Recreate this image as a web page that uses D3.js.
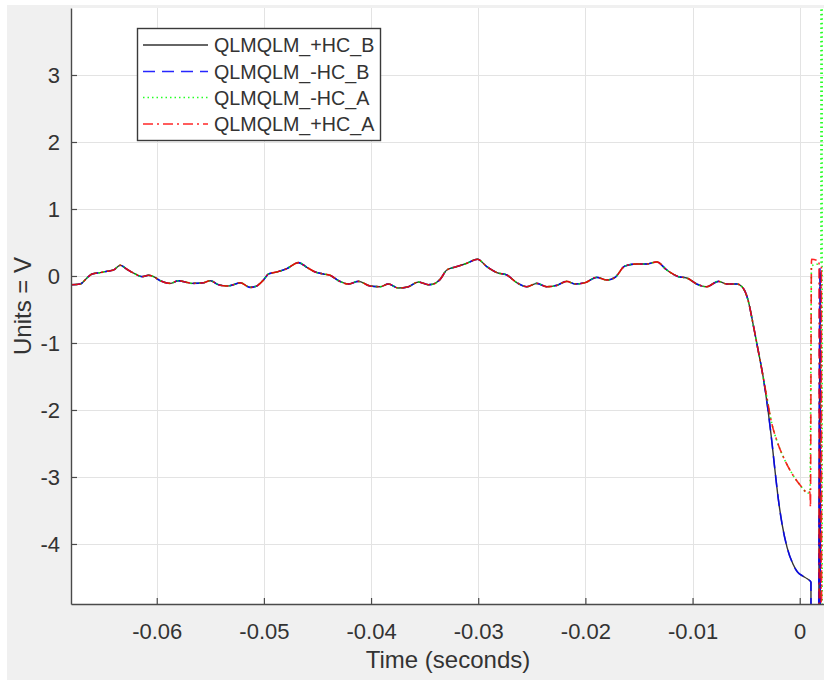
<!DOCTYPE html>
<html>
<head>
<meta charset="utf-8">
<script src="https://cdn.jsdelivr.net/npm/d3@7"></script>
<style>
  html, body { margin: 0; padding: 0; background: #ffffff; }
  svg { display: block; font-family: "Liberation Sans", Arial, Helvetica, sans-serif; }
</style>
</head>
<body>
<svg id="chart" width="824" height="680"></svg>
<script>
// Waveform shared by all four channels before the transient (time in seconds, volts)
const sharedTime = [
  -0.06800, -0.06714, -0.06651, -0.06604, -0.06527, -0.06464, -0.06403, -0.06340, -0.06278, -0.06201,
  -0.06138, -0.06077, -0.06030, -0.05967, -0.05874, -0.05797, -0.05734, -0.05672, -0.05563, -0.05501,
  -0.05424, -0.05345, -0.05284, -0.05221, -0.05128, -0.05068, -0.05004, -0.04957, -0.04879, -0.04786,
  -0.04677, -0.04599, -0.04522, -0.04444, -0.04382, -0.04304, -0.04211, -0.04118, -0.04008, -0.03915,
  -0.03838, -0.03744, -0.03651, -0.03558, -0.03465, -0.03418, -0.03355, -0.03293, -0.03200, -0.03106,
  -0.03007, -0.02920, -0.02826, -0.02733, -0.02640, -0.02547, -0.02453, -0.02360, -0.02267, -0.02174,
  -0.02096, -0.02003, -0.01894, -0.01800, -0.01723, -0.01630, -0.01521, -0.01427, -0.01334, -0.01241,
  -0.01132, -0.01054, -0.00961, -0.00868, -0.00759, -0.00681, -0.00588, -0.00538, -0.00482, -0.00436,
  -0.00389, -0.00342
];
const sharedVolts = [
  -0.13, -0.12, -0.03, 0.03, 0.05, 0.07, 0.09, 0.16, 0.10, 0.03,
  -0.01, 0.01, -0.01, -0.07, -0.11, -0.07, -0.09, -0.11, -0.10, -0.07,
  -0.13, -0.15, -0.13, -0.10, -0.17, -0.15, -0.06, 0.03, 0.06, 0.11,
  0.20, 0.13, 0.06, 0.03, 0.01, -0.07, -0.12, -0.08, -0.15, -0.16,
  -0.12, -0.18, -0.16, -0.09, -0.13, -0.12, -0.05, 0.09, 0.14, 0.19,
  0.25, 0.14, 0.05, 0.015, -0.10, -0.16, -0.11, -0.16, -0.14, -0.08,
  -0.12, -0.10, -0.02, -0.06, -0.02, 0.15, 0.18, 0.18, 0.21, 0.09,
  -0.01, -0.03, -0.12, -0.16, -0.08, -0.12, -0.12, -0.16, -0.36, -0.71,
  -1.10, -1.50
];

// Channel tails after the common section
const tailTimeB = [-0.00296, -0.00258, -0.00231, -0.00202, -0.00165, -0.00118, -0.00063, -0.00020, 0.00030, 0.00070, 0.00105, 0.00110, 0.00190, 0.00200, 0.00240];
const tailPosB  = [-2.00, -2.50, -2.90, -3.30, -3.70, -4.05, -4.30, -4.42, -4.48, -4.52, -4.57, -80, 0.05, -80, -80];
const tailNegB  = [-2.00, -2.50, -2.90, -3.30, -3.70, -4.05, -4.30, -4.42, -4.48, -4.52, -4.57, -80, 0.12, -80, -80];

const tailTimePosA = [-0.00308, -0.00261, -0.00215, -0.00153, -0.00075, 0.00003, 0.00080, 0.00096, 0.00100, 0.00110, 0.00180, 0.00190, 0.00202, 0.00212];
const tailPosA     = [-1.80, -2.20, -2.45, -2.70, -2.94, -3.12, -3.24, -3.22, -3.45, 0.25, 0.22, -80, 0.14, -80];

const tailTimeNegA = [-0.00308, -0.00261, -0.00215, -0.00153, -0.00075, 0.00003, 0.00080, 0.00096, 0.00110, 0.00198, 0.00203, 0.00213];
const tailNegA     = [-1.80, -2.20, -2.45, -2.70, -2.94, -3.12, -3.24, -3.22, 0.15, 0.20, 80, -80];

const seriesNames  = ["QLMQLM_+HC_B", "QLMQLM_-HC_B", "QLMQLM_-HC_A", "QLMQLM_+HC_A"];
const seriesColors = ["#000000", "#0000ff", "#00ff00", "#ff0000"];
const seriesDashes = [null, "12,7", "1.5,3", "10,4,2,4"];

const xTicks = [-0.06, -0.05, -0.04, -0.03, -0.02, -0.01, 0];
const xTickLabels = ["-0.06", "-0.05", "-0.04", "-0.03", "-0.02", "-0.01", "0"];
const yTicks = [-4, -3, -2, -1, 0, 1, 2, 3];
const yTickLabels = ["-4", "-3", "-2", "-1", "0", "1", "2", "3"];

const xLabel = "Time (seconds)";
const yLabel = "Units = V";

// ---- build point lists ----
function pts(ts, vs) { return ts.map((t, i) => ({ t, v: vs[i] })); }
const shared = pts(sharedTime, sharedVolts);
const series = [
  shared.concat(pts(tailTimeB, tailPosB)),
  shared.concat(pts(tailTimeB, tailNegB)),
  shared.concat(pts(tailTimeNegA, tailNegA)),
  shared.concat(pts(tailTimePosA, tailPosA))
];

// ---- layout ----
const svg = d3.select("#chart");
const W = 824, H = 680;
const plot = { left: 71, top: 8, right: 825, bottom: 604 };

svg.append("rect").attr("width", W).attr("height", H).attr("fill", "#ffffff");
svg.append("rect").attr("x", 7).attr("y", 5).attr("width", W - 7).attr("height", H - 5).attr("fill", "#f0f0f0");
svg.append("rect")
  .attr("x", plot.left).attr("y", plot.top)
  .attr("width", plot.right - plot.left).attr("height", plot.bottom - plot.top)
  .attr("fill", "#ffffff");

const x = d3.scaleLinear().domain([-0.068, 0.00236]).range([plot.left, plot.right]);
const y = d3.scaleLinear().domain([-4.896, 4.0]).range([plot.bottom, plot.top]);

// grid
const grid = svg.append("g").attr("stroke", "#e3e3e3").attr("stroke-width", 1);
grid.selectAll("line.gx").data(xTicks).join("line")
  .attr("x1", d => Math.round(x(d)) + 0.5).attr("x2", d => Math.round(x(d)) + 0.5)
  .attr("y1", plot.top).attr("y2", plot.bottom);
grid.selectAll("line.gy").data(yTicks).join("line")
  .attr("y1", d => Math.round(y(d)) + 0.5).attr("y2", d => Math.round(y(d)) + 0.5)
  .attr("x1", plot.left).attr("x2", plot.right);

// data lines
svg.append("clipPath").attr("id", "plotClip")
  .append("rect")
  .attr("x", plot.left).attr("y", plot.top)
  .attr("width", plot.right - plot.left).attr("height", plot.bottom - plot.top);

const line = d3.line().x(d => x(d.t)).y(d => y(d.v)).curve(d3.curveMonotoneX);
const lines = svg.append("g").attr("clip-path", "url(#plotClip)");
series.forEach((s, i) => {
  lines.append("path")
    .datum(s)
    .attr("fill", "none")
    .attr("stroke", seriesColors[i])
    .attr("stroke-width", i === 0 ? 1.4 : 1.6)
    .attr("stroke-opacity", i === 0 ? 0.8 : 0.85)
    .attr("stroke-dasharray", seriesDashes[i])
    .attr("stroke-linejoin", "round")
    .attr("d", line);
});

// axes
const xAxis = d3.axisBottom(x)
  .tickValues(xTicks)
  .tickFormat((d, i) => xTickLabels[i])
  .tickSizeInner(-6).tickSizeOuter(0).tickPadding(19);
const yAxis = d3.axisLeft(y)
  .tickValues(yTicks)
  .tickFormat((d, i) => yTickLabels[i])
  .tickSizeInner(-6).tickSizeOuter(0).tickPadding(11);

const gx = svg.append("g").attr("transform", `translate(0,${plot.bottom})`).call(xAxis);
const gy = svg.append("g").attr("transform", `translate(${plot.left},0)`).call(yAxis);
[gx, gy].forEach(g => {
  g.select(".domain").attr("stroke", "#4a4a4a").attr("stroke-width", 1.4);
  g.selectAll(".tick line").attr("stroke", "#4a4a4a").attr("stroke-width", 1.2);
  g.selectAll(".tick text").attr("fill", "#333333").attr("font-size", 22)
    .attr("font-family", "'Liberation Sans', Arial, sans-serif");
});

// axis titles
svg.append("text")
  .attr("x", (plot.left + plot.right) / 2).attr("y", 668)
  .attr("text-anchor", "middle").attr("font-size", 24).attr("fill", "#333333")
  .text(xLabel);
svg.append("text")
  .attr("transform", `translate(31,${(plot.top + plot.bottom) / 2}) rotate(-90)`)
  .attr("text-anchor", "middle").attr("font-size", 24).attr("fill", "#333333")
  .text(yLabel);

// legend
const leg = svg.append("g");
leg.append("rect")
  .attr("x", 137.5).attr("y", 28.5).attr("width", 243).attr("height", 112)
  .attr("fill", "#ffffff").attr("stroke", "#3a3a3a").attr("stroke-width", 1.4);
const rowY = [45, 71.5, 97.5, 124];
seriesNames.forEach((name, i) => {
  leg.append("line")
    .attr("x1", 143).attr("x2", 208).attr("y1", rowY[i]).attr("y2", rowY[i])
    .attr("stroke", seriesColors[i])
    .attr("stroke-width", 1.4)
    .attr("stroke-opacity", i === 0 ? 0.8 : 0.85)
    .attr("stroke-dasharray", seriesDashes[i]);
  leg.append("text")
    .attr("x", 214).attr("y", rowY[i] + 7)
    .attr("font-size", 19.7).attr("fill", "#333333")
    .text(name);
});
</script>
</body>
</html>
